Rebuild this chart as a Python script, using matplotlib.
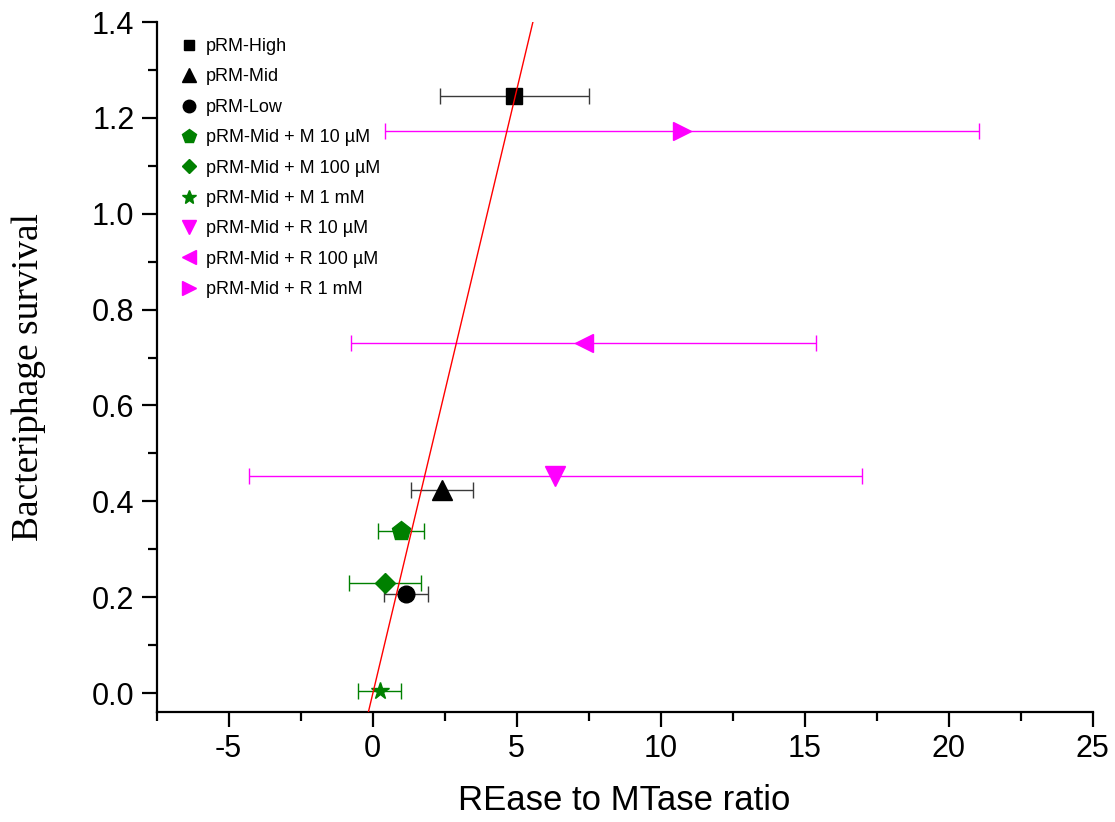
import matplotlib
matplotlib.use("Agg")
import matplotlib.pyplot as plt
from matplotlib.lines import Line2D
from matplotlib.ticker import MultipleLocator

plt.rcParams['font.family'] = ['Liberation Sans', 'DejaVu Sans']
plt.rcParams['axes.unicode_minus'] = False

# ---- data ----
labels = ["pRM-High", "pRM-Mid", "pRM-Low",
          "pRM-Mid + M 10 µM", "pRM-Mid + M 100 µM", "pRM-Mid + M 1 mM",
          "pRM-Mid + R 10 µM", "pRM-Mid + R 100 µM", "pRM-Mid + R 1 mM"]
ratio = [4.92, 2.41, 1.16, 0.97, 0.43, 0.24, 6.34, 7.33, 10.75]
ratio_err = [2.59, 1.08, 0.76, 0.80, 1.24, 0.74, 10.65, 8.07, 10.31]
survival = [1.246, 0.423, 0.206, 0.338, 0.229, 0.004, 0.453, 0.731, 1.172]
markers = ["s", "^", "o", "p", "D", "*", "v", "<", ">"]
colors = ["black", "black", "black", "green", "green", "green",
          "magenta", "magenta", "magenta"]
marker_sizes = [11, 14, 12, 14, 10.5, 13, 15, 13, 13]
legend_sizes = [7.7, 10.5, 9, 10, 7.6, 10, 10.5, 10, 10]

fit_slope = 0.252
fit_intercept = -0.002

xlim = (-7.5, 25)
ylim = (-0.04, 1.4)

fig = plt.figure(figsize=(11.15, 8.22), dpi=100)
ax = fig.add_axes([0.1405, 0.1335, 0.8395, 0.8397])

for i in range(len(labels)):
    ecol = "#3a3a3a" if colors[i] == "black" else colors[i]
    ax.errorbar(ratio[i], survival[i], xerr=ratio_err[i], fmt="none",
                ecolor=ecol, elinewidth=1.0, capsize=5.5, capthick=1.0, zorder=2)
    ax.plot(ratio[i], survival[i], marker=markers[i], color=colors[i],
            markersize=marker_sizes[i], linestyle="none", zorder=3)

# fitted line across the full y range
fy = [ylim[0], ylim[1]]
fx = [(v - fit_intercept) / fit_slope for v in fy]
ax.plot(fx, fy, color="red", lw=1.0, zorder=4)

ax.set_xlim(*xlim)
ax.set_ylim(*ylim)
ax.xaxis.set_major_locator(MultipleLocator(5))
ax.xaxis.set_minor_locator(MultipleLocator(2.5))
ax.yaxis.set_major_locator(MultipleLocator(0.2))
ax.yaxis.set_minor_locator(MultipleLocator(0.1))
ax.yaxis.set_major_formatter(plt.FuncFormatter(lambda v, p: f"{v:.1f}"))

for s in ["top", "right"]:
    ax.spines[s].set_visible(False)
for s in ["left", "bottom"]:
    ax.spines[s].set_linewidth(1.6)

ax.tick_params(which="major", direction="out", length=11, width=1.6,
               labelsize=22, pad=5)
ax.tick_params(which="minor", direction="out", length=6.5, width=1.6)

ax.set_xlabel("REase to MTase ratio", fontsize=25, labelpad=14)
ax.set_ylabel("Bacteriphage survival", fontsize=27,
              family=["Liberation Serif", "DejaVu Serif"])
ax.yaxis.set_label_coords(-0.118, 0.486)

handles = [Line2D([], [], marker=markers[i], color=colors[i], linestyle="none",
                  markersize=legend_sizes[i]) for i in range(len(labels))]
ax.legend(handles, labels, loc="upper left", bbox_to_anchor=(0.01, 0.995),
          frameon=False, fontsize=13, labelspacing=0.74, handletextpad=0.3,
          handlelength=1.2, borderaxespad=0.3)

fig.savefig("out.png", dpi=100)
